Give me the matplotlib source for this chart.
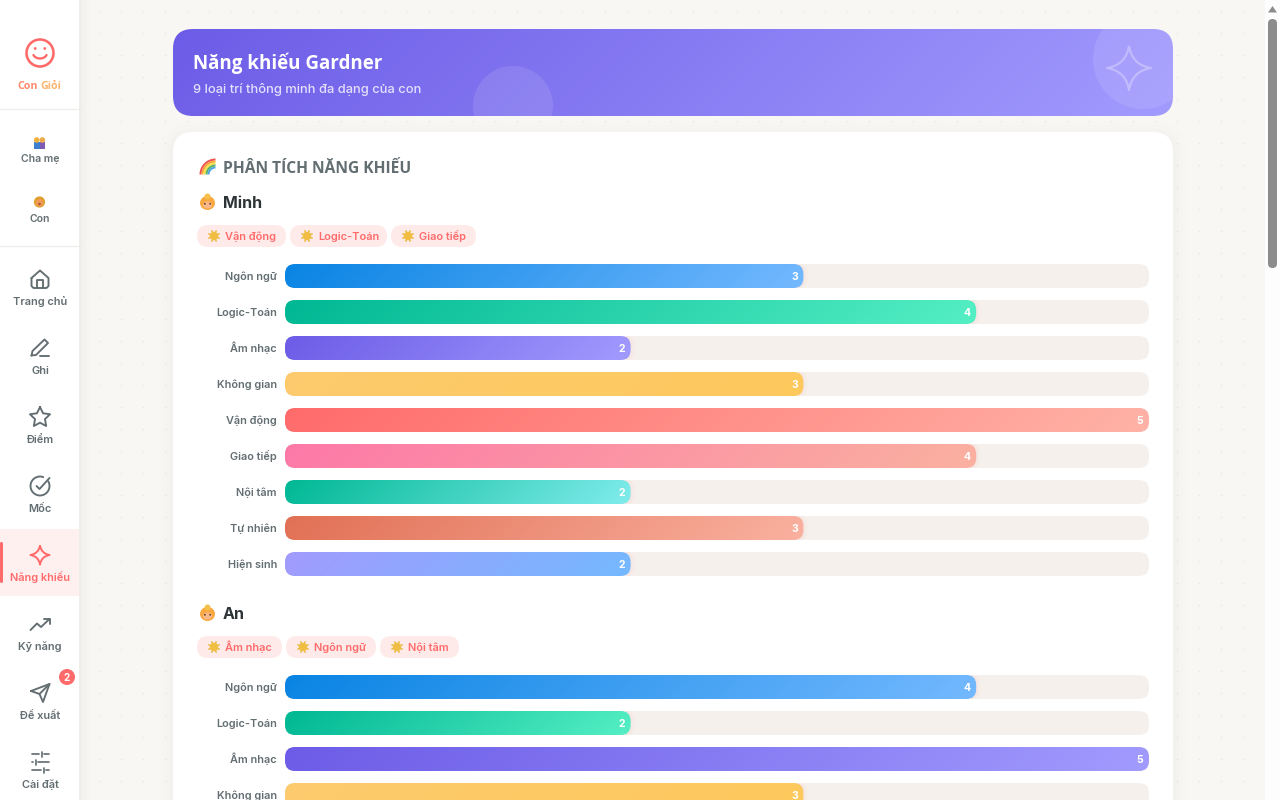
import numpy as np
import matplotlib
matplotlib.use("Agg")
import matplotlib.pyplot as plt
from matplotlib.colors import to_rgb
from matplotlib.patches import Circle, Ellipse, FancyBboxPatch, PathPatch, Polygon, Rectangle, Wedge
from matplotlib.path import Path

# data
skills = ["Ngôn ngữ", "Logic-Toán", "Âm nhạc", "Không gian", "Vận động",
          "Giao tiếp", "Nội tâm", "Tự nhiên", "Hiện sinh"]
minh_scores = [3, 4, 2, 3, 5, 4, 2, 3, 2]
an_scores = [4, 2, 5, 3]
max_score = 5
minh_tags = ["Vận động", "Logic-Toán", "Giao tiếp"]
an_tags = ["Âm nhạc", "Ngôn ngữ", "Nội tâm"]
bar_colors = [("#0984e3", "#74b9ff"), ("#00b894", "#55efc4"), ("#6c5ce7", "#a29bfe"),
              ("#fdcb6e", "#fdc85c"), ("#ff6b6b", "#ffb3a7"), ("#fd79a8", "#fab1a0"),
              ("#00b894", "#81ecec"), ("#e17055", "#fab1a0"), ("#a29bfe", "#74b9ff")]
nav_labels = ["Trang chủ", "Ghi", "Điểm", "Mốc", "Năng khiếu", "Kỹ năng", "Đề xuất", "Cài đặt"]

BODY = ["Inter", "DejaVu Sans"]
HEAD = ["Open Sans", "Noto Sans", "DejaVu Sans"]
GREY = "#636e72"
CORAL = "#ff6b6b"
TRACK = "#f5f0eb"

fig = plt.figure(figsize=(12.8, 8), dpi=100)
ax = fig.add_axes([0, 0, 1, 1])
ax.set_xlim(0, 1280)
ax.set_ylim(800, 0)
ax.axis("off")


def px(size):
    return size * 0.72


def label(x, y, s, size=11, color=GREY, weight="medium", ha="center", family=BODY, **kw):
    # y is the middle of the capitals, so accents do not shift the line
    return ax.text(x, y + 0.36 * size, s, fontsize=px(size), color=color, fontweight=weight,
                   ha=ha, va="baseline", family=family, **kw)


def rounded(x, y, w, h, r, **kw):
    r = min(r, w / 2, h / 2)
    patch = FancyBboxPatch((x + r, y + r), w - 2 * r, h - 2 * r,
                           boxstyle=f"round,pad={r},rounding_size={r}",
                           mutation_aspect=1, linewidth=kw.pop("linewidth", 0), **kw)
    ax.add_patch(patch)
    return patch


def gradient(x, y, w, h, r, start, end, zorder=3):
    # css 135deg gradient
    xx, yy = np.meshgrid(np.arange(int(w)) + 0.5, np.arange(int(h)) + 0.5)
    t = (xx - w / 2 + yy - h / 2) / (w + h) + 0.5
    c0, c1 = np.array(to_rgb(start)), np.array(to_rgb(end))
    img = c0 + (c1 - c0) * t[..., None]
    im = ax.imshow(img, extent=(x, x + w, y + h, y), zorder=zorder, aspect="auto",
                   interpolation="bilinear")
    clip = rounded(x, y, w, h, r, facecolor="none", zorder=zorder)
    im.set_clip_path(clip)
    return clip


def shadow(x, y, w, h, r, zorder=1):
    for grow, a in [(14, 0.004), (10, 0.005), (6, 0.006), (3, 0.006)]:
        rounded(x - grow, y - grow + 3, w + 2 * grow, h + 2 * grow, r + grow,
                facecolor="black", alpha=a, zorder=zorder)


def stroke(points, color=GREY, lw=1.9, zorder=6, closed=False, alpha=1):
    pts = np.array(points, float)
    if closed:
        pts = np.vstack([pts, pts[0]])
    ax.plot(pts[:, 0], pts[:, 1], color=color, lw=px(lw), solid_capstyle="round",
            solid_joinstyle="round", zorder=zorder, alpha=alpha)


def sparkle(cx, cy, s, color, lw=2.0, alpha=1, zorder=6):
    k = 0.14 * s
    codes = [Path.MOVETO]
    verts = [(cx, cy - s)]
    for tip, ctrl in [((cx + s, cy), (cx + k, cy - k)), ((cx, cy + s), (cx + k, cy + k)),
                      ((cx - s, cy), (cx - k, cy + k)), ((cx, cy - s), (cx - k, cy - k))]:
        verts += [ctrl, tip]
        codes += [Path.CURVE3, Path.CURVE3]
    ax.add_patch(PathPatch(Path(verts, codes), facecolor="none", edgecolor=color,
                           lw=px(lw), alpha=alpha, zorder=zorder, joinstyle="round"))


def sun(cx, cy):
    for a in np.arange(0, np.pi, np.pi / 4) + np.pi / 8:
        dx, dy = 5.6 * np.cos(a), 5.6 * np.sin(a)
        stroke([(cx - dx, cy - dy), (cx + dx, cy + dy)], color="#e9bb45", lw=1.6, zorder=6)
    ax.add_patch(Circle((cx, cy), 4.2, color="#efbe42", lw=0, zorder=7))


def baby(cx, cy):
    ax.add_patch(Ellipse((cx, cy + 1), 15, 14, color="#f9a83f", lw=0, zorder=6))
    ax.add_patch(Circle((cx, cy - 5.5), 3, color="#f3c04c", lw=0, zorder=6))
    ax.add_patch(Ellipse((cx, cy + 3), 9, 7, color="#fbb98a", lw=0, zorder=6))
    ax.add_patch(Circle((cx - 2.6, cy + 1.8), 0.9, color="#5a3a2a", lw=0, zorder=7))
    ax.add_patch(Circle((cx + 2.6, cy + 1.8), 0.9, color="#5a3a2a", lw=0, zorder=7))


def person_group(cx, cy):
    ax.add_patch(Rectangle((cx - 5.5, cy - 1), 5.5, 7, color="#3f7fcf", lw=0, zorder=6))
    ax.add_patch(Rectangle((cx, cy - 1), 5.5, 7, color="#7d5bb5", lw=0, zorder=6))
    ax.add_patch(Circle((cx - 2.8, cy - 3), 2.8, color="#eeb23c", lw=0, zorder=7))
    ax.add_patch(Circle((cx + 2.8, cy - 3), 2.8, color="#f0a94a", lw=0, zorder=7))


def lion(cx, cy):
    ax.add_patch(Circle((cx, cy), 5.6, color="#e0a030", lw=0, zorder=6))
    ax.add_patch(Circle((cx, cy + 0.8), 3.6, color="#f09a5a", lw=0, zorder=7))
    ax.add_patch(Circle((cx, cy + 2), 1.3, color="#b0562f", lw=0, zorder=8))


def rainbow(cx, cy):
    colors = ["#ef5350", "#f4a63a", "#f7e04a", "#58b368", "#4fa3e0"]
    for i, c in enumerate(colors):
        ax.add_patch(Wedge((cx + 8, cy + 7.5), 16 - i * 2, 180, 270, width=2,
                           color=c, lw=0, zorder=6))


def tag_row(names, xs, y):
    # pill widths come from the label length in the picture
    for name, (x0, x1) in zip(names, xs):
        rounded(x0, y, x1 - x0, 22, 11, facecolor="#ffeaea", zorder=3)
        sun(x0 + 17, y + 11)
        label(x0 + 28, y + 11, name, size=11, color=CORAL, weight="semibold", ha="left", zorder=7)


def skill_bars(names, scores, y0):
    left, width = 285, 864
    for i, (name, score) in enumerate(zip(names, scores)):
        y = y0 + i * 36
        label(277, y + 12, name, size=10.9, ha="right", weight="semibold", zorder=6)
        rounded(left, y, width, 24, 10, facecolor=TRACK, zorder=2)
        w = width * score / max_score
        if score < max_score:
            # faint glow past the end of the fill
            for grow, a in [(5, 0.012), (3, 0.018), (1.5, 0.025)]:
                rounded(left + w - 12, y, 12 + grow, 24, 10, facecolor=CORAL, alpha=a, zorder=2.5)
        gradient(left, y, w, 24, 10, *bar_colors[i])
        label(left + w - 9, y + 12.5, str(score), size=10.5, color="white", weight="bold", zorder=7)


# page background with dots
ax.add_patch(Rectangle((0, 0), 1280, 800, color="#f8f7f4", lw=0, zorder=0))
dx, dy = np.meshgrid(np.arange(99, 1265, 22), np.arange(11, 800, 22))
ax.scatter(dx.ravel(), dy.ravel(), s=1.2, color="#e9e7e1", linewidths=0, zorder=0.5)

# sidebar
for grow, a in [(12, 0.006), (8, 0.008), (4, 0.012), (2, 0.012)]:
    ax.add_patch(Rectangle((0, 0), 79 + grow, 800, color="black", alpha=a, lw=0, zorder=0.7))
ax.add_patch(Rectangle((0, 0), 79, 800, color="white", lw=0, zorder=1))
for y in [109, 246]:
    ax.plot([0, 79], [y, y], color="#f0ece8", lw=0.9, zorder=2)

ax.add_patch(Circle((40, 53), 13.5, facecolor="none", edgecolor=CORAL, lw=px(2.6), zorder=6))
ax.add_patch(Circle((35.2, 48.5), 1.4, color=CORAL, lw=0, zorder=6))
ax.add_patch(Circle((44.8, 48.5), 1.4, color=CORAL, lw=0, zorder=6))
arc_t = np.linspace(0.12, 0.88, 20) * np.pi
stroke(np.c_[40 + 7 * np.cos(arc_t), 53 + 5.5 * np.sin(arc_t)], color=CORAL, lw=2.4)
label(37.5, 85, "Con", size=10.6, color="#ff8a6b", weight="bold", family=HEAD, ha="right")
label(40.5, 85, "Giỏi", size=10.6, color="#fdb46e", weight="bold", family=HEAD, ha="left")

person_group(39.5, 143)
label(40, 158.5, "Cha mẹ", size=10.5, weight="semibold")
lion(39.5, 202)
label(40, 218.5, "Con", size=10.5, weight="semibold")

# active nav item
ax.add_patch(Rectangle((0, 529), 79, 67, color="#fff0f0", lw=0, zorder=2))
rounded(0, 542, 3, 41, 1.5, facecolor=CORAL, zorder=3)

nav_y = [301, 370, 439, 508, 577, 646, 715, 784]
for name, y in zip(nav_labels, nav_y):
    active = name == "Năng khiếu"
    label(40, y, name, size=11, color=CORAL if active else GREY, weight="semibold", zorder=6)

# nav icons
stroke([(31.5, 278), (40, 270.5), (48.5, 278), (48.5, 286), (46.5, 288), (33.5, 288), (31.5, 286)],
       closed=True)
stroke([(37, 288), (37, 279.5), (43, 279.5), (43, 288)])
stroke([(31.5, 355.5), (32.5, 351), (44.5, 339.5), (48, 343), (36, 355)], closed=True)
stroke([(40, 355.5), (49, 355.5)])
star_a = np.deg2rad(np.arange(-90, 270, 36))
star_r = np.where(np.arange(10) % 2 == 0, 10.5, 5.2)
stroke(np.c_[40 + star_r * np.cos(star_a), 417.5 + star_r * np.sin(star_a)], closed=True)
ring_t = np.deg2rad(np.linspace(-30, 290, 40))
stroke(np.c_[40 + 9.5 * np.cos(ring_t), 486 + 9.5 * np.sin(ring_t)])
stroke([(36.5, 486), (39.5, 489), (49.5, 478)])
sparkle(40, 555, 9.5, CORAL, lw=2)
stroke([(30.5, 630), (37, 623.5), (41, 627), (49.5, 619)])
stroke([(43.5, 619), (49.5, 619), (49.5, 624)])
stroke([(31, 691), (49.5, 684), (43, 702), (39.5, 694)], closed=True)
stroke([(39.5, 694), (49.5, 684)])
for y, cut in [(754, 42), (762, 36), (770, 44)]:
    stroke([(31.5, y), (cut - 3, y)], lw=1.7)
    stroke([(cut + 2, y), (48.5, y)], lw=1.7)
    stroke([(cut, y - 2.5), (cut, y + 2.5)], lw=1.7)

# nav badge
ax.add_patch(Circle((67, 677), 8, color=CORAL, lw=0, zorder=7))
label(67, 677, "2", size=10, color="white", weight="bold", zorder=8)

# banner
clip = gradient(173, 29, 1000, 87, 20, "#6c5ce7", "#a29bfe", zorder=2)
for center, r in [((1143, 59), 50), ((513, 106), 40)]:
    deco = Circle(center, r, facecolor="white", alpha=0.1, lw=0, zorder=3)
    ax.add_patch(deco)
    deco.set_clip_path(clip)
sparkle(1129, 68, 22, "white", lw=2.2, alpha=0.3, zorder=4)
label(193, 62.5, "Năng khiếu Gardner", size=18.8, color="white", weight="bold", ha="left",
      family=HEAD, zorder=5)
label(193, 88.5, "9 loại trí thông minh đa dạng của con", size=12.9, color="#e4e0fb",
      weight="medium", ha="left", zorder=5)

# main card, runs off the bottom of the page
shadow(173, 132, 1000, 720, 20)
rounded(173, 132, 1000, 720, 20, facecolor="white", zorder=1.5)
rainbow(207.5, 167)
label(223, 167, "PHÂN TÍCH NĂNG KHIẾU", size=15.6, weight="bold", ha="left", family=HEAD, zorder=6)

baby(207.5, 202)
label(223, 202.5, "Minh", size=16, color="#2d3436", weight="bold", ha="left", zorder=6)
tag_row(minh_tags, [(197, 286), (290, 387), (391, 476)], 225)
skill_bars(skills, minh_scores, 264)

baby(207.5, 613)
label(223, 613.5, "An", size=16, color="#2d3436", weight="bold", ha="left", zorder=6)
tag_row(an_tags, [(197, 282), (286, 376), (380, 459)], 636)
skill_bars(skills, an_scores, 675)

# scrollbar
ax.add_patch(Rectangle((1265, 0), 15, 800, color="#fdfdfd", lw=0, zorder=8))
ax.add_patch(Polygon([(1268, 12.5), (1277, 12.5), (1272.5, 6)], color="#8c8c8c", lw=0, zorder=9))
rounded(1268, 19, 9, 249, 4.5, facecolor="#8c8c8c", zorder=9)

ax.set_xlim(0, 1280)
ax.set_ylim(800, 0)
fig.savefig("out.png", dpi=100)
